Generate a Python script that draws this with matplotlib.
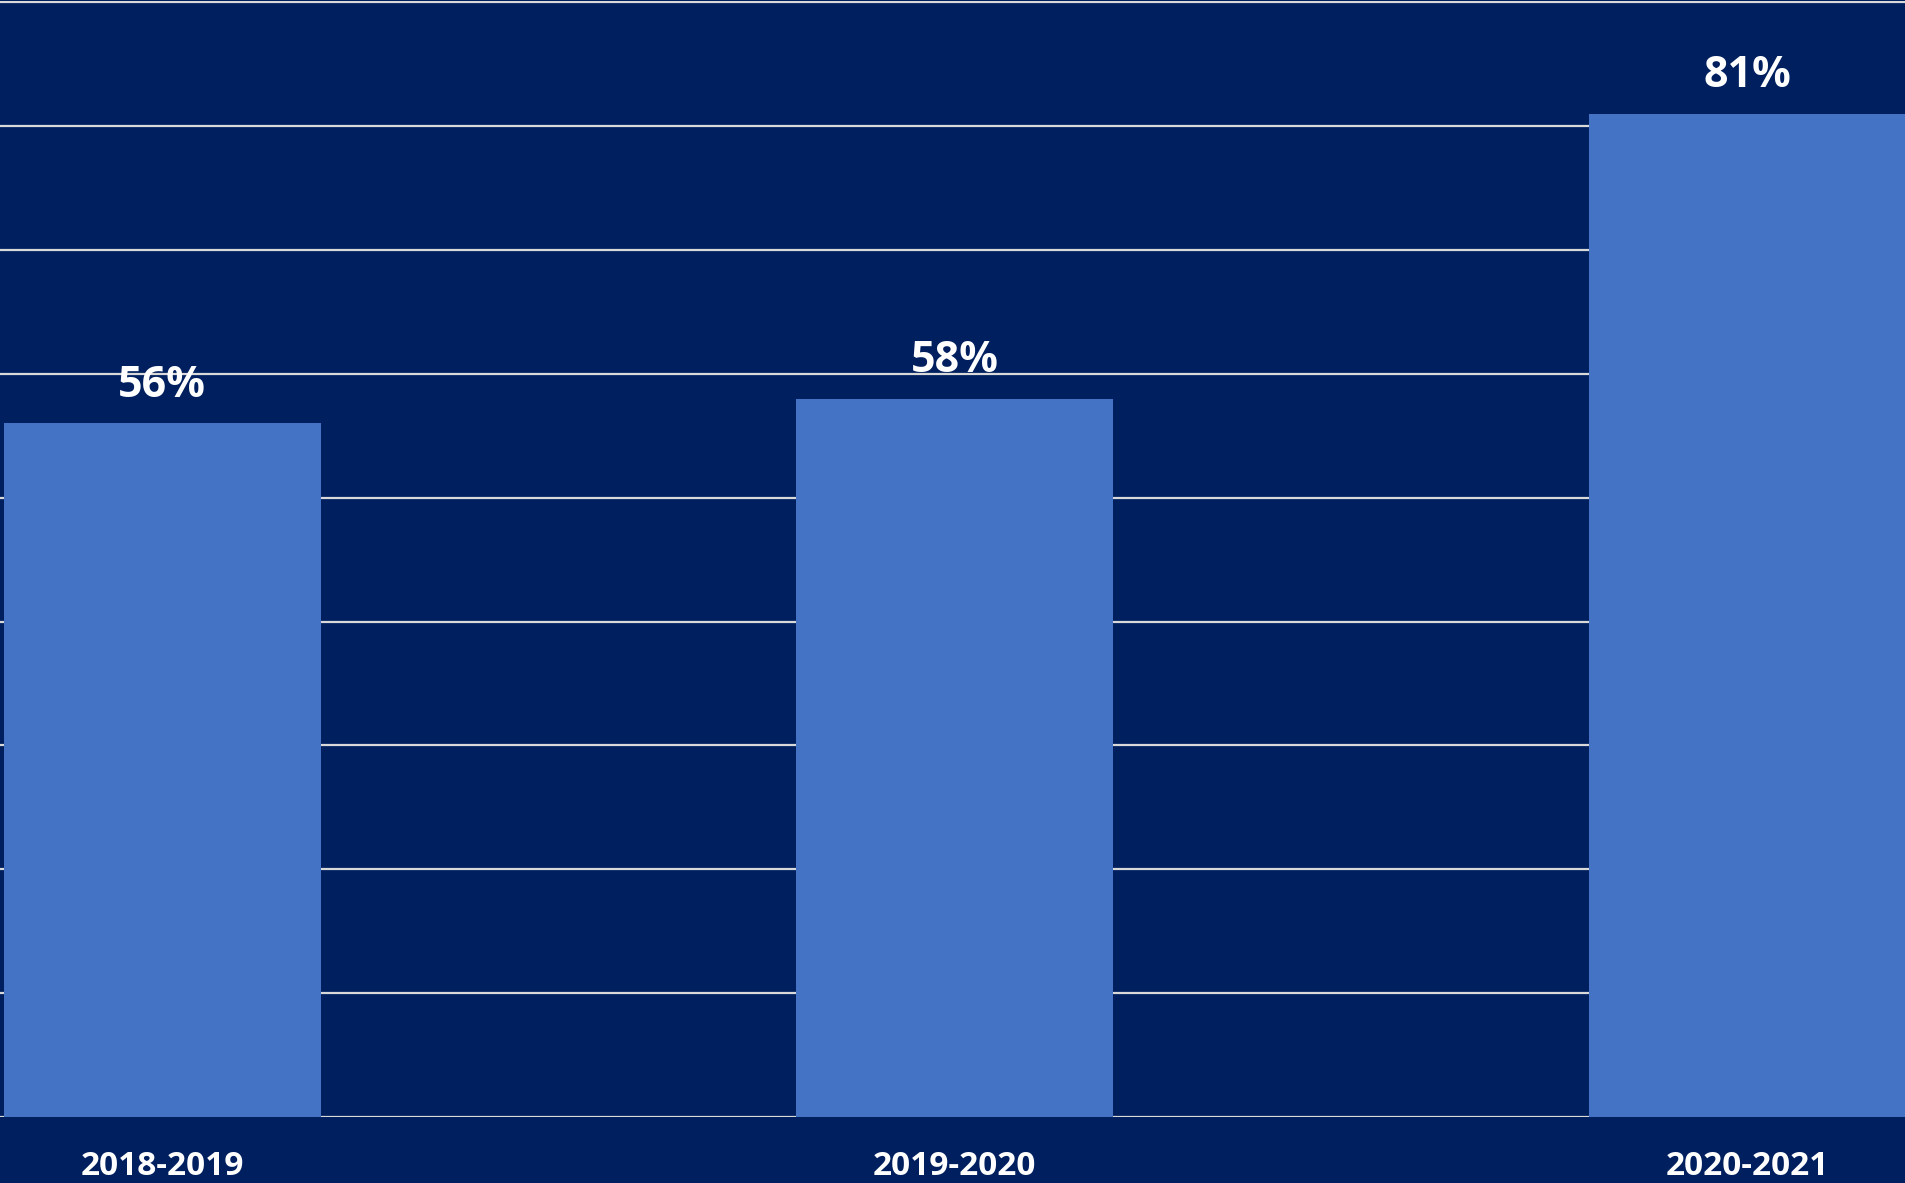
import matplotlib.pyplot as plt

years = ["2018-2019", "2019-2020", "2020-2021"]
shares = [56, 58, 81]
grid_steps = [0, 10, 20, 30, 40, 50, 60, 70, 80, 90]

navy = "#001F5F"
bar_blue = "#4472C4"

fig = plt.figure(figsize=(19.06, 11.83), dpi=100, facecolor=navy)
ax = fig.add_axes([0, 0.0558, 1, 0.9434])
ax.set_facecolor(navy)

x = list(range(len(years)))
ax.bar(x, shares, width=0.4, color=bar_blue, zorder=2)

for val in grid_steps:
    ax.axhline(val, color="#D9D9D9", lw=1.6, zorder=1)

# percentage labels over each bar
for xi, val in zip(x, shares):
    ax.annotate(f"{val}%", (xi, val), xytext=(0, 12), textcoords="offset points",
                ha="center", va="bottom", color="white", fontsize=31,
                fontweight="bold", family="Open Sans")

ax.set_xlim(-0.2045, 2.2)
ax.set_ylim(0, 90.1)
ax.set_xticks(x)
ax.set_xticklabels(years, color="white", fontsize=24, fontweight="bold", family="Open Sans")
ax.tick_params(axis="x", length=0, pad=24)
ax.set_yticks([])
for s in ax.spines.values():
    s.set_visible(False)

fig.savefig("out.png", dpi=100, facecolor=navy)
